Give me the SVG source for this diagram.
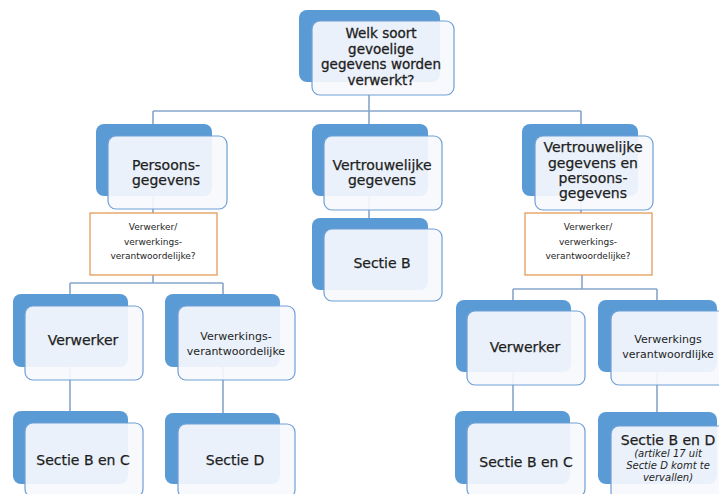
<svg xmlns="http://www.w3.org/2000/svg" width="719" height="494" viewBox="0 0 719 494">
<style>
.bk{fill:#5b9bd5}
.fr{fill:#f6f9fd;fill-opacity:0.92;stroke:#6f9fd6;stroke-width:1.2}
.dc{fill:#ffffff;stroke:#e59c5a;stroke-width:1.3}
.cn{fill:none;stroke:#86a6cb;stroke-width:1.6}
text{font-family:"DejaVu Sans","Liberation Sans",sans-serif;fill:#1e1e1e;text-anchor:middle}
.t{font-size:14px;stroke:#1e1e1e;stroke-width:0.25}
.tt{font-size:13.5px;stroke:#1e1e1e;stroke-width:0.3}
.s{font-size:9px}
.m{font-size:11px}
.i{font-size:10px;font-style:italic}
</style>
<rect width="719" height="494" fill="#ffffff"/>
<g id="connectors">
<path class="cn" d="M369,95 V218 M153,111 H581 M153,111 V213 M581,111 V213"/>
<path class="cn" d="M153,275 V283 M70,283 H223 M70,283 V411 M223,283 V413"/>
<path class="cn" d="M582,275 V289 M513,289 H657 M513,289 V411 M657,289 V412"/>
</g>
<g id="n-top">
<rect class="bk" x="299" y="10" width="141" height="72" rx="8"/>
<rect class="fr" x="312" y="21" width="142" height="74" rx="8"/>
<text class="tt" x="381" y="38">Welk soort</text>
<text class="tt" x="381" y="53.5">gevoelige</text>
<text class="tt" x="381" y="69">gegevens worden</text>
<text class="tt" x="381" y="84.5">verwerkt?</text>
</g>
<g id="n-persoons">
<rect class="bk" x="96" y="124" width="116" height="72" rx="8"/>
<rect class="fr" x="108" y="136" width="119" height="73" rx="8"/>
<text class="t" x="166" y="170">Persoons-</text>
<text class="t" x="166" y="185">gegevens</text>
</g>
<g id="n-vertrouwelijk">
<rect class="bk" x="312" y="124" width="116" height="72" rx="8"/>
<rect class="fr" x="324" y="136" width="118" height="74" rx="8"/>
<text class="t" x="382" y="170">Vertrouwelijke</text>
<text class="t" x="382" y="185">gegevens</text>
</g>
<g id="n-beide">
<rect class="bk" x="522" y="124" width="116" height="72" rx="8"/>
<rect class="fr" x="535" y="136" width="118" height="74" rx="8"/>
<text class="t" x="593" y="152">Vertrouwelijke</text>
<text class="t" x="593" y="168">gegevens en</text>
<text class="t" x="593" y="183">persoons-</text>
<text class="t" x="593" y="198">gegevens</text>
</g>
<g id="n-sectieB">
<rect class="bk" x="312" y="218" width="116" height="72" rx="8"/>
<rect class="fr" x="324" y="229" width="118" height="72" rx="8"/>
<text class="t" x="382" y="268">Sectie B</text>
</g>
<g id="n-vraag-links">
<rect class="dc" x="90" y="213" width="127" height="62"/>
<text class="s" x="153" y="230">Verwerker/</text>
<text class="s" x="153" y="245">verwerkings-</text>
<text class="s" x="153" y="259">verantwoordelijke?</text>
</g>
<g id="n-vraag-rechts">
<rect class="dc" x="525" y="213" width="127" height="62"/>
<text class="s" x="588" y="230">Verwerker/</text>
<text class="s" x="588" y="245">verwerkings-</text>
<text class="s" x="588" y="259">verantwoordelijke?</text>
</g>
<g id="n-verwerker-links">
<rect class="bk" x="13" y="294" width="115" height="73" rx="8"/>
<rect class="fr" x="25" y="306" width="118" height="74" rx="8"/>
<text class="t" x="83" y="345">Verwerker</text>
</g>
<g id="n-verantw-links">
<rect class="bk" x="165" y="294" width="115" height="73" rx="8"/>
<rect class="fr" x="178" y="306" width="117" height="74" rx="8"/>
<text class="m" x="236" y="340">Verwerkings-</text>
<text class="m" x="236" y="355">verantwoordelijke</text>
</g>
<g id="n-verwerker-rechts">
<rect class="bk" x="456" y="300" width="115" height="72" rx="8"/>
<rect class="fr" x="467" y="311" width="118" height="74" rx="8"/>
<text class="t" x="525" y="352">Verwerker</text>
</g>
<g id="n-verantw-rechts">
<rect class="bk" x="598" y="300" width="119" height="72" rx="8"/>
<rect class="fr" x="611" y="311" width="118" height="74" rx="8"/>
<text class="m" x="668" y="343">Verwerkings</text>
<text class="m" x="668" y="358">verantwoordlijke</text>
</g>
<g id="n-sectieBC-links">
<rect class="bk" x="13" y="411" width="115" height="73" rx="8"/>
<rect class="fr" x="25" y="423" width="118" height="74" rx="8"/>
<text class="t" x="83" y="465">Sectie B en C</text>
</g>
<g id="n-sectieD">
<rect class="bk" x="165" y="413" width="115" height="71" rx="8"/>
<rect class="fr" x="178" y="424" width="117" height="74" rx="8"/>
<text class="t" x="235" y="465">Sectie D</text>
</g>
<g id="n-sectieBC-rechts">
<rect class="bk" x="455" y="411" width="115" height="73" rx="8"/>
<rect class="fr" x="467" y="423" width="118" height="74" rx="8"/>
<text class="t" x="526" y="467">Sectie B en C</text>
</g>
<g id="n-sectieBD">
<rect class="bk" x="598" y="412" width="119" height="72" rx="8"/>
<rect class="fr" x="611" y="426" width="118" height="74" rx="8"/>
<text class="t" x="668" y="445">Sectie B en D</text>
<text class="i" x="668" y="457">(artikel 17 uit</text>
<text class="i" x="668" y="469">Sectie D komt te</text>
<text class="i" x="668" y="481">vervallen)</text>
</g>
</svg>
